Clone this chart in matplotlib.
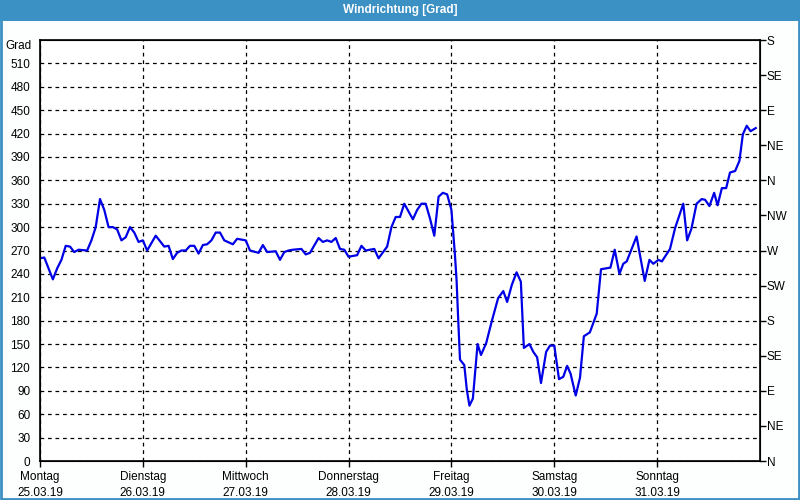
import matplotlib
matplotlib.use("Agg")
import matplotlib.pyplot as plt
from matplotlib.patches import Rectangle
import numpy as np

# hours since Monday 25.03.19 00:00 and wind direction in degrees
hours = [0, 1, 3, 4, 5, 6, 7, 8, 9, 11, 12, 13, 14, 15, 16, 17, 18, 19, 20, 21,
         22, 23, 24, 25, 27, 29, 30, 31, 32, 33, 34, 35, 36, 37, 38, 39, 40, 41,
         42, 43, 45, 46, 48, 49, 51, 52, 53, 55, 56, 57, 58, 59, 61, 62, 63, 65,
         66, 67, 68, 69, 70, 71, 72, 74, 75, 76, 78, 79, 81, 82, 83, 84, 85, 86,
         87, 88, 89, 90, 91, 92, 93, 94, 95, 96, 96.8, 97.2, 97.6, 98, 99, 99.6,
         100.2, 101, 102.1, 102.9, 104.1, 105.4, 106.9, 108.1, 109, 110.1, 111.2,
         112.2, 112.9, 114.2, 115.1, 116, 116.9, 118.1, 119, 120, 121.1, 122.1,
         123, 123.8, 125, 126, 126.9, 128.3, 129.9, 130.9, 133.1, 134.1, 135.2,
         136.1, 136.9, 139.2, 141.1, 142.2, 143.1, 144.3, 145.1, 147, 148.2,
         150.1, 151, 152, 153.2, 154.4, 155.2, 156.2, 157.3, 158.1, 159.1, 160.1,
         161, 162.2, 163.2, 164, 164.9, 165.8, 167]
grad = [260, 261, 233, 247, 258, 276, 275, 268, 271, 270, 283, 300, 336, 322,
        300, 300, 297, 283, 287, 300, 293, 281, 283, 270, 289, 275, 276, 259,
        267, 270, 270, 276, 276, 266, 277, 278, 283, 293, 293, 283, 278, 285,
        283, 270, 267, 277, 268, 269, 258, 268, 270, 271, 272, 265, 267, 286,
        281, 283, 281, 286, 272, 271, 262, 264, 276, 270, 272, 260, 275, 300,
        313, 313, 330, 320, 310, 322, 330, 330, 311, 289, 339, 344, 342, 322,
        266, 232, 179, 130, 123, 91, 71, 80, 150, 136, 151, 179, 209, 218, 204,
        226, 242, 230, 145, 150, 140, 133, 100, 140, 148, 148, 105, 108, 122,
        112, 84, 107, 160, 165, 189, 246, 248, 271, 240, 253, 256, 288, 231,
        258, 253, 258, 256, 272, 299, 330, 283, 298, 330, 336, 335, 327, 344,
        328, 350, 350, 370, 372, 385, 419, 430, 423, 427]

day_labels = ["Montag\n25.03.19", "Dienstag\n26.03.19", "Mittwoch\n27.03.19",
              "Donnerstag\n28.03.19", "Freitag\n29.03.19", "Samstag\n30.03.19",
              "Sonntag\n31.03.19"]
left_ticks = list(range(0, 511, 30))
compass = ["N", "NE", "E", "SE", "S", "SW", "W", "NW", "N", "NE", "E", "SE", "S"]

plt.rcParams["font.family"] = "Liberation Sans"
plt.rcParams["font.size"] = 8.5

frame_blue = "#3b90c4"
fig = plt.figure(figsize=(8, 5), dpi=100)
fig.patch.set_facecolor("#fdfefe")

# window frame and title bar
fig.patches.append(Rectangle((0, 0.958), 1, 0.042, transform=fig.transFigure,
                             facecolor=frame_blue, edgecolor="none"))
fig.patches.append(Rectangle((0.0015, 0.003), 0.997, 0.96, transform=fig.transFigure,
                             facecolor="none", edgecolor=frame_blue, lw=2))
fig.text(0.5, 0.979, "Windrichtung [Grad]", color="white", fontweight="bold",
         ha="center", va="center", fontsize=8.5)

ax = fig.add_axes([0.05, 0.078, 0.90, 0.842])
ax.set_facecolor("white")
ax.plot(np.array(hours) / 24.0, grad, color="#0000e6", lw=1.6)

ax.set_xlim(0, 7)
ax.set_ylim(0, 540)
ax.set_xticks(range(7))
ax.set_xticklabels(day_labels, linespacing=1.5)
ax.set_yticks(left_ticks)
ax.tick_params(axis="y", length=0, pad=7)
ax.tick_params(axis="x", length=4, width=1, pad=3)

ax.grid(True, color="black", linestyle=(0, (3, 3)), lw=0.9)
for s in ax.spines.values():
    s.set_color("black")
    s.set_linewidth(1.2)

ax2 = ax.twinx()
ax2.set_ylim(0, 540)
ax2.set_yticks(range(0, 541, 45))
ax2.set_yticklabels(compass)
ax2.tick_params(axis="y", length=4, width=1, pad=1)

ax.text(-0.012, 532, "Grad", ha="right", va="center",
        transform=ax.get_yaxis_transform())

fig.savefig("out.png", dpi=100, facecolor=fig.get_facecolor())
